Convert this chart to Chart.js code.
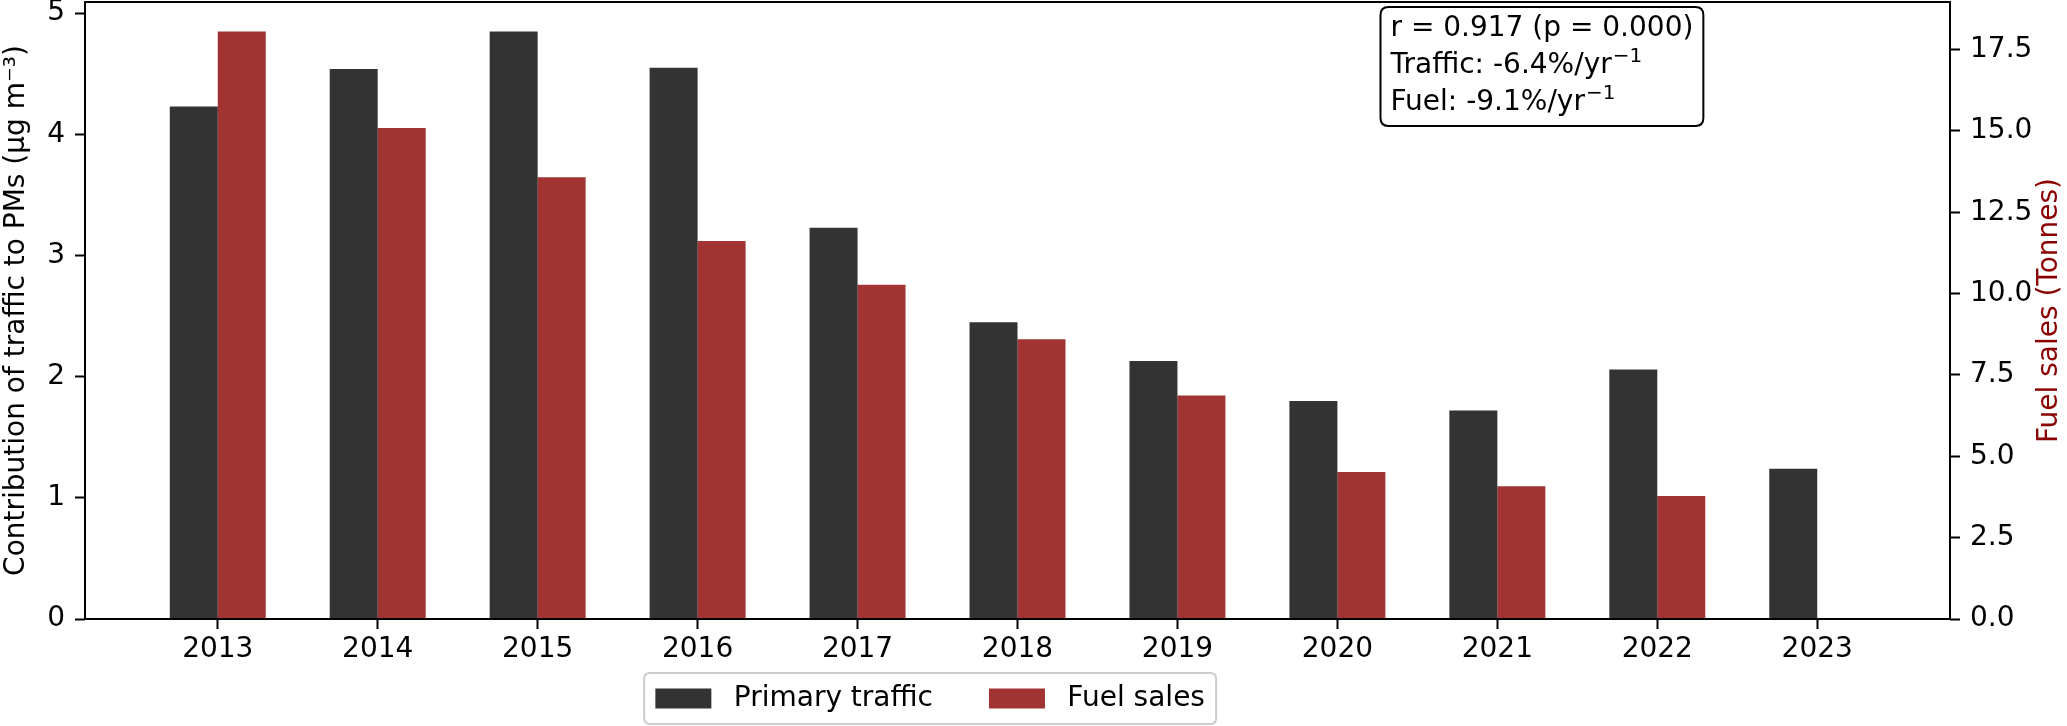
<!DOCTYPE html>
<html><head><meta charset="utf-8">
<script src="https://cdn.jsdelivr.net/npm/chart.js@4.4.1/dist/chart.umd.min.js"></script>
<style>html,body{margin:0;padding:0;background:#fff}#wrap{width:2067px;height:726px;position:relative}</style>
</head><body><div id="wrap"><canvas id="c"></canvas></div>
<script>
const years = [2013, 2014, 2015, 2016, 2017, 2018, 2019, 2020, 2021, 2022, 2023];
const trafficValues = [4.23, 4.54, 4.85, 4.55, 3.23, 2.45, 2.13, 1.80, 1.72, 2.06, 1.24];
const fuelValues = [18.06, 15.09, 13.58, 11.62, 10.27, 8.60, 6.87, 4.52, 4.08, 3.78, null];
const leftTicks = [0, 1, 2, 3, 4, 5];
const rightTicks = [0, 2.5, 5, 7.5, 10, 12.5, 15, 17.5];
const xTickLabels = years.map(String);
const seriesNames = ['Primary traffic', 'Fuel sales'];
const annotationLines = ['r = 0.917 (p = 0.000)', 'Traffic: -6.4%/yr', 'Fuel: -9.1%/yr'];
const annotationSups = ['', '\u22121', '\u22121'];
const leftTitle = 'Contribution of traffic to PMs (\u03BCg m\u207B\u00B3)';
const rightTitle = 'Fuel sales (Tonnes)';

const FONT = '28px "DejaVu Sans"';
const SUPFONT = '20px "DejaVu Sans"';
const trafficColor = 'rgba(0,0,0,0.8)';
const fuelColor = 'rgba(139,0,0,0.8)';

const xLo = years[0] - 0.3, xHi = years[years.length - 1] + 0.3;
const xMargin = 0.05 * (xHi - xLo);
const leftMax = Math.max(...trafficValues) * 1.05;
const rightMax = Math.max(...fuelValues.filter(v => v != null)) * 1.05;

Chart.defaults.font.family = '"DejaVu Sans"';
Chart.defaults.font.size = 28;
Chart.defaults.color = '#000';

function roundRect(ctx, x, y, w, h, r) {
  ctx.beginPath();
  ctx.moveTo(x + r, y);
  ctx.lineTo(x + w - r, y);
  ctx.quadraticCurveTo(x + w, y, x + w, y + r);
  ctx.lineTo(x + w, y + h - r);
  ctx.quadraticCurveTo(x + w, y + h, x + w - r, y + h);
  ctx.lineTo(x + r, y + h);
  ctx.quadraticCurveTo(x, y + h, x, y + h - r);
  ctx.lineTo(x, y + r);
  ctx.quadraticCurveTo(x, y, x + r, y);
  ctx.closePath();
}

const extras = {
  id: 'extras',
  afterDraw(chart) {
    const ctx = chart.ctx;
    const a = chart.chartArea;
    ctx.save();
    ctx.strokeStyle = '#000';
    ctx.lineWidth = 2;
    ctx.strokeRect(a.left, a.top, a.right - a.left, a.bottom - a.top);

    ctx.save();
    ctx.translate(chart.width - 17, (a.top + a.bottom) / 2);
    ctx.rotate(-Math.PI / 2);
    ctx.font = FONT;
    ctx.fillStyle = '#8b0000';
    ctx.textAlign = 'center';
    ctx.textBaseline = 'middle';
    ctx.fillText(rightTitle, 0, 0);
    ctx.restore();

    // annotation box
    const tx = a.left + 0.7 * (a.right - a.left);
    const widths = annotationLines.map((t, i) => {
      ctx.font = FONT; const w = ctx.measureText(t).width;
      ctx.font = SUPFONT; return w + (annotationSups[i] ? ctx.measureText(annotationSups[i]).width + 1 : 0);
    });
    const bw = Math.max(...widths) + 20;
    const by = a.top + 5, bh = 119;
    roundRect(ctx, tx - 10, by, bw, bh, 8);
    ctx.fillStyle = '#fff';
    ctx.fill();
    ctx.strokeStyle = '#000';
    ctx.lineWidth = 2;
    ctx.stroke();
    ctx.fillStyle = '#000';
    ctx.textAlign = 'left';
    ctx.textBaseline = 'alphabetic';
    annotationLines.forEach((t, i) => {
      const base = a.top + 34 + i * 37;
      ctx.font = FONT;
      ctx.fillText(t, tx, base);
      if (annotationSups[i]) {
        const w = ctx.measureText(t).width;
        ctx.font = SUPFONT;
        ctx.fillText(annotationSups[i], tx + w + 1, base - 11);
      }
    });

    // legend
    ctx.font = FONT;
    ctx.textBaseline = 'middle';
    const handle = 56, hpad = 22.4, colsp = 56, bpad = 11.2;
    const w0 = ctx.measureText(seriesNames[0]).width;
    const w1 = ctx.measureText(seriesNames[1]).width;
    const total = bpad * 2 + handle * 2 + hpad * 2 + w0 + w1 + colsp;
    const cx = chart.width * 0.45;
    const lx = cx - total / 2;
    const ly = 673, lh = 51, cy = ly + lh / 2;
    roundRect(ctx, lx, ly, total, lh, 6);
    ctx.fillStyle = 'rgba(255,255,255,0.8)';
    ctx.fill();
    ctx.strokeStyle = '#cccccc';
    ctx.lineWidth = 2;
    ctx.stroke();
    let x = lx + bpad;
    ctx.fillStyle = trafficColor;
    ctx.fillRect(x, cy - 10, handle, 20);
    x += handle + hpad;
    ctx.fillStyle = '#000';
    ctx.fillText(seriesNames[0], x, cy);
    x += w0 + colsp;
    ctx.fillStyle = fuelColor;
    ctx.fillRect(x, cy - 10, handle, 20);
    x += handle + hpad;
    ctx.fillStyle = '#000';
    ctx.fillText(seriesNames[1], x, cy);
    ctx.restore();
  }
};

const tickGrid = { display: true, drawOnChartArea: false, drawTicks: true, tickLength: 10, tickWidth: 2, color: '#000', offset: false };

new Chart(document.getElementById('c'), {
  type: 'bar',
  data: {
    datasets: [
      { label: seriesNames[0], data: years.map((x, i) => ({ x, y: trafficValues[i] })), backgroundColor: trafficColor, borderWidth: 0, yAxisID: 'y', categoryPercentage: 0.6, barPercentage: 1.0 },
      { label: seriesNames[1], data: years.map((x, i) => ({ x, y: fuelValues[i] })), backgroundColor: fuelColor, borderWidth: 0, yAxisID: 'y1', categoryPercentage: 0.6, barPercentage: 1.0 }
    ]
  },
  options: {
    animation: false,
    responsive: true,
    maintainAspectRatio: false,
    devicePixelRatio: 1,
    layout: { padding: { top: 2, left: 0, right: 0, bottom: 0 } },
    plugins: { legend: { display: false }, tooltip: { enabled: false } },
    scales: {
      x: {
        type: 'linear', offset: false, min: xLo - xMargin, max: xHi + xMargin,
        grid: tickGrid, border: { display: false },
        afterBuildTicks: s => { s.ticks = years.map(v => ({ value: v })); },
        ticks: { padding: 4, maxRotation: 0, autoSkip: false, callback: (v, i) => xTickLabels[i] },
        afterFit: s => { s.height = 107; s.paddingLeft = 0; s.paddingRight = 0; }
      },
      y: {
        position: 'left', min: 0, max: leftMax,
        grid: tickGrid, border: { display: false },
        afterBuildTicks: s => { s.ticks = leftTicks.map(v => ({ value: v })); },
        ticks: { padding: 10, callback: v => String(v) },
        title: { display: true, text: leftTitle, padding: { top: 0, bottom: 0 } },
        afterFit: s => { s.width = 85; s.paddingTop = 0; s.paddingBottom = 0; }
      },
      y1: {
        position: 'right', min: 0, max: rightMax,
        grid: tickGrid, border: { display: false },
        afterBuildTicks: s => { s.ticks = rightTicks.map(v => ({ value: v })); },
        ticks: { padding: 10, callback: v => v.toFixed(1) },
        afterFit: s => { s.width = 117; s.paddingTop = 0; s.paddingBottom = 0; }
      }
    }
  },
  plugins: [extras]
});
</script>
</body></html>
